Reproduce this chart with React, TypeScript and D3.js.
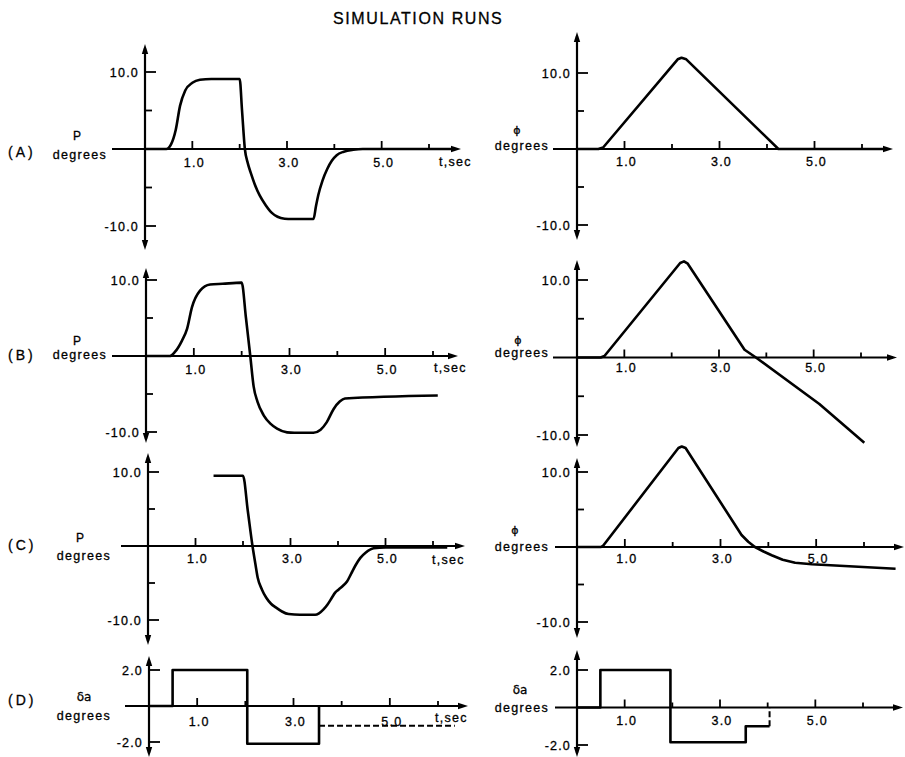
import React from 'react';
import * as d3 from 'd3';

// ---------- text ----------
const TITLE = 'SIMULATION RUNS';
const ROW_TAGS = ['(A)', '(B)', '(C)', '(D)'];
const LEFT_NAMES = ['P', 'P', 'P', 'δa'];
const RIGHT_NAMES = ['ϕ', 'ϕ', 'ϕ', 'δa'];
const UNIT_LABEL = 'degrees';
const TIME_LABEL = 't,sec';

// ---------- ticks ----------
const X_TICKS = [1, 2, 3, 4, 5, 6];
const X_MAJOR = [1, 3, 5];
const X_TICK_LABELS = ['1.0', '3.0', '5.0'];
const Y_TICKS_DEG = [-10, -5, 5, 10];
const Y_MAJOR_DEG = [-10, 10];
const Y_LABELS_DEG = ['-10.0', '10.0'];
const Y_TICKS_DA = [-2, 2];
const Y_LABELS_DA = ['-2.0', '2.0'];

// ---------- series [t (sec), value (deg)] ----------
const pA: [number, number][] = [
  [0, 0], [0.45, 0], [0.55, 0.6], [0.65, 2.5], [0.74, 5.6], [0.85, 7.6], [1.0, 8.6], [1.16, 9.0],
  [1.4, 9.1], [2.0, 9.1], [2.05, 5.0], [2.11, 0], [2.17, -1.8], [2.24, -3.2], [2.32, -4.6],
  [2.42, -6.0], [2.55, -7.3], [2.68, -8.3], [2.8, -8.8], [2.95, -9.05], [3.1, -9.1], [3.56, -9.1],
  [3.61, -7.5], [3.66, -6.0], [3.75, -4.1], [3.85, -2.6], [3.95, -1.5], [4.05, -0.8], [4.2, -0.35],
  [4.4, -0.1], [4.6, 0], [6.5, 0],
];
const phiA: [number, number][] = [
  [0, 0], [0.45, 0], [0.55, 0.2], [2.12, 11.8], [2.2, 12.0], [2.3, 11.8], [4.24, 0], [6.45, 0],
];
const pB: [number, number][] = [
  [0, 0], [0.5, 0], [0.6, 0.5], [0.75, 2.0], [0.86, 3.6], [0.96, 6.4], [1.13, 8.6], [1.34, 9.4],
  [1.6, 9.5], [2.0, 9.65], [2.09, 5.0], [2.18, 0], [2.25, -4.0], [2.33, -6.0], [2.46, -7.8],
  [2.6, -8.9], [2.74, -9.55], [2.95, -10.05], [3.1, -10.1], [3.5, -10.1], [3.65, -9.7],
  [3.78, -8.7], [3.92, -7.0], [4.05, -6.0], [4.16, -5.6], [6.1, -5.2],
];
const phiB: [number, number][] = [
  [0, 0], [0.5, 0], [0.58, 0.2], [2.18, 12.2], [2.26, 12.4], [2.34, 12.1], [3.54, 1.0], [3.78, 0],
  [5.12, -6.0], [6.07, -11.0],
];
const pC: [number, number][] = [
  [1.38, 9.5], [2.0, 9.5], [2.1, 4.8], [2.2, 0], [2.26, -2.4], [2.31, -4.3], [2.4, -5.9],
  [2.49, -7.0], [2.59, -7.8], [2.69, -8.3], [2.82, -8.85], [2.96, -9.2], [3.2, -9.3], [3.52, -9.3],
  [3.6, -9.1], [3.69, -8.6], [3.78, -7.9], [3.87, -7.0], [3.94, -6.3], [4.01, -5.9], [4.1, -5.4],
  [4.19, -4.8], [4.28, -3.7], [4.37, -2.6], [4.47, -1.6], [4.58, -0.9], [4.75, -0.3], [5.0, -0.2],
  [6.3, -0.2],
];
const phiC: [number, number][] = [
  [0, 0], [0.5, 0], [0.55, 0.2], [2.12, 13.2], [2.19, 13.4], [2.27, 13.2], [3.44, 1.6], [3.58, 0.7],
  [3.72, 0], [3.9, -0.6], [4.07, -1.1], [4.3, -1.7], [4.56, -2.1], [4.91, -2.3], [6.66, -2.9],
];
const daLeft: [number, number][] = [
  [0, 0], [0.49, 0], [0.49, 2.0], [2.04, 2.0], [2.04, -2.1], [3.53, -2.1], [3.53, 0],
];
const daLeftDashed: [number, number][] = [[3.53, -1.1], [6.35, -1.1]];
const daRight: [number, number][] = [
  [0, 0], [0.49, 0], [0.49, 2.0], [1.96, 2.0], [1.96, -1.85], [3.54, -1.85], [3.54, -1.0], [4.04, -1.0],
];
const daRightDashed: [number, number][] = [[4.04, -1.0], [4.04, 0]];

// ---------- layout ----------
type Panel = {
  axisX: number; x6: number; yLo: number; yHi: number; yMax: number;
  top: number; bottom: number; xStart: number; xEnd: number;
  tagY?: number; nameX: number; nameY: number; degX: number; degY: number; degAnchor: string;
  xLabY: number; tsec?: [number, number];
  yTicks: number[]; yMajor: number[]; yLabels: string[];
  solid: [number, number][]; dashed?: [number, number][]; smooth: boolean;
  tag?: string; name: string;
};

const FONT = '"Liberation Sans", Arial, Helvetica, sans-serif';
const GREEK = '"DejaVu Sans", "Liberation Sans", sans-serif';

const panels: Panel[] = [
  { axisX: 145, x6: 429, yLo: 226, yHi: 72, yMax: 10, top: 44, bottom: 250, xStart: 112, xEnd: 461,
    tagY: 157, nameX: 77, nameY: 140, degX: 80, degY: 159, degAnchor: 'middle', xLabY: 167, tsec: [439, 166],
    yTicks: Y_TICKS_DEG, yMajor: Y_MAJOR_DEG, yLabels: Y_LABELS_DEG, solid: pA, smooth: true, tag: ROW_TAGS[0], name: LEFT_NAMES[0] },
  { axisX: 146, x6: 433, yLo: 432, yHi: 280, yMax: 10, top: 268, bottom: 443, xStart: 112, xEnd: 458,
    tagY: 360, nameX: 77, nameY: 345, degX: 80, degY: 359, degAnchor: 'middle', xLabY: 374, tsec: [434, 372],
    yTicks: Y_TICKS_DEG, yMajor: Y_MAJOR_DEG, yLabels: Y_LABELS_DEG, solid: pB, smooth: true, tag: ROW_TAGS[1], name: LEFT_NAMES[1] },
  { axisX: 148, x6: 433, yLo: 620, yHi: 472, yMax: 10, top: 453, bottom: 645, xStart: 121, xEnd: 465,
    tagY: 550, nameX: 80, nameY: 542, degX: 84, degY: 560, degAnchor: 'middle', xLabY: 563, tsec: [432, 564],
    yTicks: Y_TICKS_DEG, yMajor: Y_MAJOR_DEG, yLabels: Y_LABELS_DEG, solid: pC, smooth: true, tag: ROW_TAGS[2], name: LEFT_NAMES[2] },
  { axisX: 149, x6: 438, yLo: 742, yHi: 670, yMax: 2, top: 656, bottom: 757, xStart: 125, xEnd: 468,
    tagY: 705, nameX: 84, nameY: 701, degX: 84, degY: 720, degAnchor: 'middle', xLabY: 726, tsec: [435, 722],
    yTicks: Y_TICKS_DA, yMajor: Y_TICKS_DA, yLabels: Y_LABELS_DA, solid: daLeft, dashed: daLeftDashed, smooth: false, tag: ROW_TAGS[3], name: LEFT_NAMES[3] },
  { axisX: 577, x6: 862, yLo: 225, yHi: 73, yMax: 10, top: 32, bottom: 240, xStart: 553, xEnd: 893,
    nameX: 517, nameY: 134, degX: 549, degY: 150, degAnchor: 'end', xLabY: 166,
    yTicks: Y_TICKS_DEG, yMajor: Y_MAJOR_DEG, yLabels: Y_LABELS_DEG, solid: phiA, smooth: false, name: RIGHT_NAMES[0] },
  { axisX: 577, x6: 861, yLo: 435, yHi: 280, yMax: 10, top: 260, bottom: 447, xStart: 553, xEnd: 897,
    nameX: 518, nameY: 344, degX: 549, degY: 357, degAnchor: 'end', xLabY: 372,
    yTicks: Y_TICKS_DEG, yMajor: Y_MAJOR_DEG, yLabels: Y_LABELS_DEG, solid: phiB, smooth: false, name: RIGHT_NAMES[1] },
  { axisX: 577, x6: 864, yLo: 622, yHi: 472, yMax: 10, top: 458, bottom: 638, xStart: 555, xEnd: 904,
    nameX: 515, nameY: 534, degX: 549, degY: 551, degAnchor: 'end', xLabY: 563,
    yTicks: Y_TICKS_DEG, yMajor: Y_MAJOR_DEG, yLabels: Y_LABELS_DEG, solid: phiC, smooth: false, name: RIGHT_NAMES[2] },
  { axisX: 577, x6: 863, yLo: 745, yHi: 670, yMax: 2, top: 650, bottom: 757, xStart: 555, xEnd: 903,
    nameX: 520, nameY: 694, degX: 549, degY: 712, degAnchor: 'end', xLabY: 725,
    yTicks: Y_TICKS_DA, yMajor: Y_TICKS_DA, yLabels: Y_LABELS_DA, solid: daRight, dashed: daRightDashed, smooth: false, name: RIGHT_NAMES[3] },
];

const AX_W = 2.2;
const LINE_W = 2.6;
const TXT = { fill: '#000', stroke: '#000', strokeWidth: 0.3 };

function PanelView({ p }: { p: Panel }) {
  const xs = d3.scaleLinear().domain([0, 6]).range([p.axisX, p.x6]);
  const ys = d3.scaleLinear().domain([-p.yMax, p.yMax]).range([p.yLo, p.yHi]);
  const y0 = ys(0);
  const line = d3.line<[number, number]>()
    .x((d) => xs(d[0]))
    .y((d) => ys(d[1]))
    .curve(p.smooth ? d3.curveMonotoneX : d3.curveLinear);
  const ah = 10, aw = 3.2;
  const isGreek = p.name === 'ϕ' || p.name === 'δa';
  return (
    <g>
      {/* y axis */}
      <line x1={p.axisX} x2={p.axisX} y1={p.top + 4} y2={p.bottom - 4} stroke="#000" strokeWidth={AX_W} />
      <path d={`M${p.axisX},${p.top} L${p.axisX - aw},${p.top + ah} L${p.axisX + aw},${p.top + ah} Z`} fill="#000" />
      <path d={`M${p.axisX},${p.bottom} L${p.axisX - aw},${p.bottom - ah} L${p.axisX + aw},${p.bottom - ah} Z`} fill="#000" />
      {/* x axis */}
      <line x1={p.xStart} x2={p.xEnd - 4} y1={y0} y2={y0} stroke="#000" strokeWidth={AX_W} />
      <path d={`M${p.xEnd},${y0} L${p.xEnd - ah},${y0 - aw} L${p.xEnd - ah},${y0 + aw} Z`} fill="#000" />
      {/* x ticks */}
      {X_TICKS.map((t) => (
        <line key={'xt' + t} x1={xs(t)} x2={xs(t)} y1={y0} y2={y0 - (X_MAJOR.includes(t) ? 8 : 5)} stroke="#000" strokeWidth={1.8} />
      ))}
      {X_MAJOR.map((t, i) => (
        <text key={'xl' + t} x={xs(t) + 2} y={p.xLabY} textAnchor="middle" fontSize={12.5} letterSpacing={1.2} fontFamily={FONT} {...TXT}>
          {X_TICK_LABELS[i]}
        </text>
      ))}
      {/* y ticks */}
      {p.yTicks.map((v) => (
        <line key={'yt' + v} x1={p.axisX} x2={p.axisX + (p.yMajor.includes(v) ? 11 : 7)} y1={ys(v)} y2={ys(v)} stroke="#000" strokeWidth={1.8} />
      ))}
      {p.yMajor.map((v, i) => (
        <text key={'yl' + v} x={p.axisX - 6} y={ys(v) + 4.5} textAnchor="end" fontSize={12.5} letterSpacing={1.2} fontFamily={FONT} {...TXT}>
          {p.yLabels[i]}
        </text>
      ))}
      {/* labels */}
      {p.tag && (
        <text x={8} y={p.tagY} fontSize={14} letterSpacing={3} fontFamily={FONT} {...TXT}>{p.tag}</text>
      )}
      <text x={p.nameX} y={p.nameY} textAnchor="middle" fontSize={p.name === 'ϕ' ? 11 : 12}
        fontFamily={isGreek ? GREEK : FONT} {...TXT}>{p.name}</text>
      <text x={p.degX} y={p.degY} textAnchor={p.degAnchor as any} fontSize={12.5} letterSpacing={1.3} fontFamily={FONT} {...TXT}>{UNIT_LABEL}</text>
      {p.tsec && (
        <text x={p.tsec[0]} y={p.tsec[1]} fontSize={12.5} letterSpacing={1.3} fontFamily={FONT} {...TXT}>{TIME_LABEL}</text>
      )}
      {/* data */}
      <path d={line(p.solid) || ''} fill="none" stroke="#000" strokeWidth={LINE_W} strokeLinejoin="round" />
      {p.dashed && (
        <path d={line(p.dashed) || ''} fill="none" stroke="#000" strokeWidth={2} strokeDasharray="6,3" />
      )}
    </g>
  );
}

export default function App() {
  return (
    <svg width={905} height={757} viewBox="0 0 905 757"
      style={{ position: 'absolute', left: 0, top: 0, background: '#fff' }}>
      <rect x={0} y={0} width={905} height={757} fill="#fff" />
      <text x={333} y={24} fontSize={16} letterSpacing={1.6} fontFamily={FONT} {...TXT}>{TITLE}</text>
      {panels.map((p, i) => <PanelView key={i} p={p} />)}
    </svg>
  );
}
